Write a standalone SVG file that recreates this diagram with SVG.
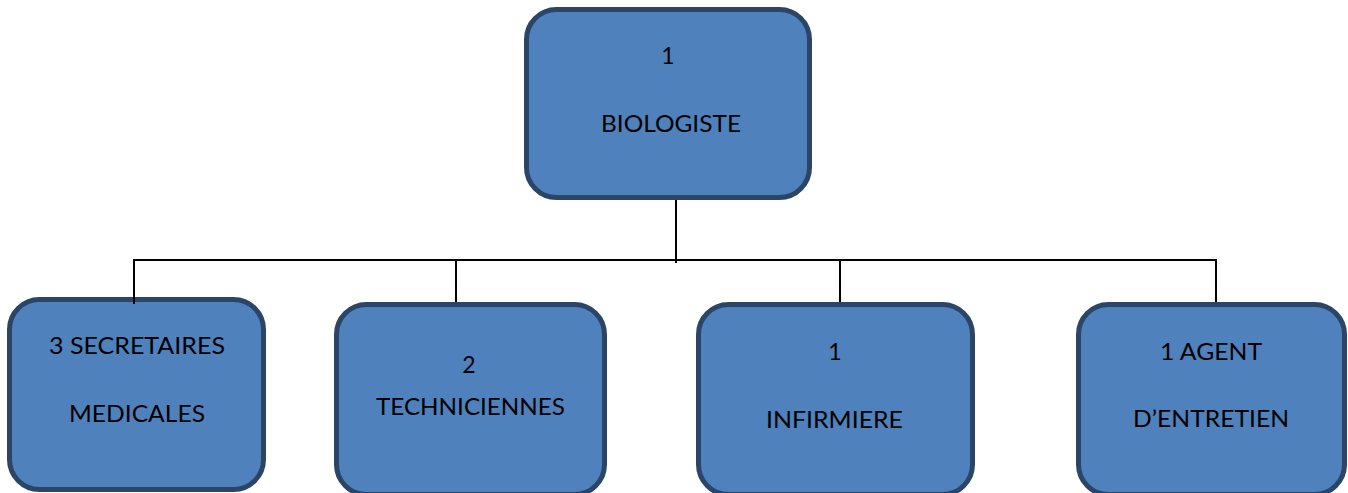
<svg xmlns="http://www.w3.org/2000/svg" width="1348" height="493" viewBox="0 0 1348 493">
  <style>
    .box { fill: #4F81BD; stroke: #2A4566; stroke-width: 5; }
    .lbl { font-family: Lato, "Liberation Sans", sans-serif; font-size: 23px; fill: #000; text-anchor: middle; }
    .conn { stroke: #000; stroke-width: 2; fill: none; }
  </style>
  <rect width="1348" height="493" fill="#ffffff"/>
  <g id="connectors">
    <line class="conn" x1="676" y1="200" x2="676" y2="263"/>
    <line class="conn" x1="134" y1="260" x2="1216" y2="260"/>
    <line class="conn" x1="456" y1="260" x2="456" y2="303"/>
    <line class="conn" x1="840" y1="260" x2="840" y2="303"/>
    <line class="conn" x1="1216" y1="259" x2="1216" y2="303"/>
  </g>
  <g id="node-biologiste">
    <rect class="box" x="526.5" y="9.5" width="283" height="188" rx="30"/>
    <text class="lbl" x="668" y="64">1</text>
    <text class="lbl" x="671" y="132" textLength="140" lengthAdjust="spacingAndGlyphs">BIOLOGISTE</text>
  </g>
  <g id="node-secretaires">
    <rect class="box" x="9.5" y="299.5" width="254" height="190" rx="30"/>
    <text class="lbl" x="137" y="354" textLength="176" lengthAdjust="spacingAndGlyphs">3 SECRETAIRES</text>
    <text class="lbl" x="137" y="422" textLength="136" lengthAdjust="spacingAndGlyphs">MEDICALES</text>
  </g>
  <g id="node-techniciennes">
    <rect class="box" x="336.5" y="304.5" width="268" height="190" rx="30"/>
    <text class="lbl" x="469" y="373">2</text>
    <text class="lbl" x="470.5" y="415" textLength="189" lengthAdjust="spacingAndGlyphs">TECHNICIENNES</text>
  </g>
  <g id="node-infirmiere">
    <rect class="box" x="698.5" y="304.5" width="274" height="190" rx="30"/>
    <text class="lbl" x="835" y="360">1</text>
    <text class="lbl" x="834.5" y="428" textLength="137" lengthAdjust="spacingAndGlyphs">INFIRMIERE</text>
  </g>
  <g id="node-agent">
    <rect class="box" x="1078.5" y="304.5" width="266" height="190" rx="30"/>
    <text class="lbl" x="1211" y="360" textLength="102" lengthAdjust="spacingAndGlyphs">1 AGENT</text>
    <text class="lbl" x="1211" y="427" textLength="156" lengthAdjust="spacingAndGlyphs">D’ENTRETIEN</text>
  </g>
  <line class="conn" x1="134" y1="259" x2="134" y2="304"/>
</svg>
